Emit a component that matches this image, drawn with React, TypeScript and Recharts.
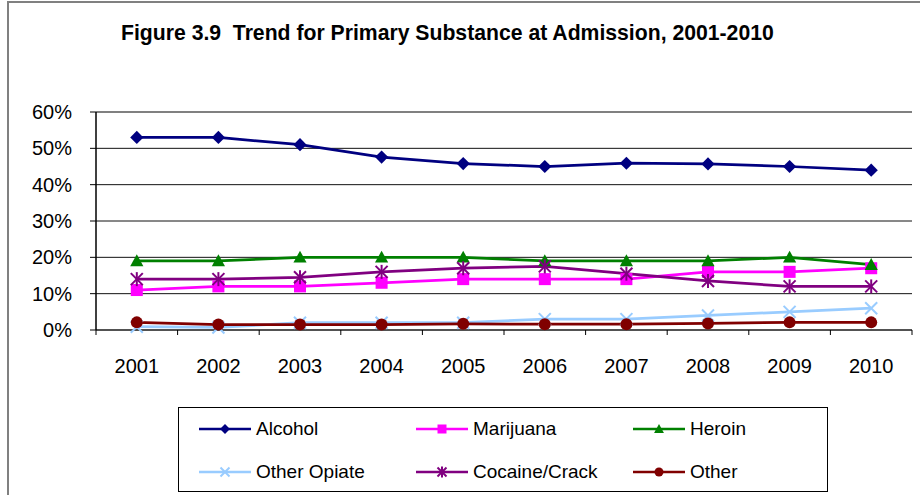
import React from 'react';
import {
    LineChart, Line, XAxis, YAxis, CartesianGrid, Legend, ReferenceLine
} from 'recharts';

// years on the x axis
const years = ['2001', '2002', '2003', '2004', '2005', '2006', '2007', '2008', '2009', '2010'];

// percent of admissions per primary substance
const alcohol = [53, 53, 51, 47.6, 45.8, 45, 45.9, 45.7, 45, 44];
const marijuana = [11, 12, 12, 13, 14, 14, 14, 16, 16, 17];
const heroin = [19, 19, 20, 20, 20, 19, 19, 19, 20, 18];
const otherOpiate = [0.9, 0.7, 2, 2, 2, 3, 3, 4, 5, 6];
const cocaine = [14, 14, 14.5, 16, 17, 17.5, 15.5, 13.5, 12, 12];
const other = [2.1, 1.5, 1.5, 1.5, 1.7, 1.6, 1.6, 1.8, 2.1, 2.1];

const yTicks = [0, 10, 20, 30, 40, 50, 60];

type Shape = 'diamond' | 'square' | 'triangle' | 'x' | 'star' | 'circle';

const SERIES: { key: string; name: string; color: string; shape: Shape }[] = [
    { key: 'alcohol', name: 'Alcohol', color: '#000080', shape: 'diamond' },
    { key: 'marijuana', name: 'Marijuana', color: '#FF00FF', shape: 'square' },
    { key: 'heroin', name: 'Heroin', color: '#008000', shape: 'triangle' },
    { key: 'otherOpiate', name: 'Other Opiate', color: '#99CCFF', shape: 'x' },
    { key: 'cocaine', name: 'Cocaine/Crack', color: '#800080', shape: 'star' },
    { key: 'other', name: 'Other', color: '#800000', shape: 'circle' },
];

const data = years.map((year, i) => ({
    year,
    alcohol: alcohol[i],
    marijuana: marijuana[i],
    heroin: heroin[i],
    otherOpiate: otherOpiate[i],
    cocaine: cocaine[i],
    other: other[i],
}));

const WIDTH = 920;
const HEIGHT = 495;
const MARGIN = { top: 112, right: 8, left: 0, bottom: 115 };
const Y_AXIS_W = 96;
const X_AXIS_H = 50;
const X_TICK_SIZE = 5;
const X_TICK_MARGIN = 24;
const HALF_BAND = (WIDTH - MARGIN.right - Y_AXIS_W) / years.length / 2;
const FONT = '"Liberation Sans", Arial, sans-serif';

// marker drawn at (cx, cy), s = half size
const Marker = ({ shape, color, cx, cy, s }: { shape: Shape; color: string; cx: number; cy: number; s: number }) => {
    switch (shape) {
        case 'diamond': {
            const d = s * 1.1;
            return <polygon points={`${cx},${cy - d} ${cx + d},${cy} ${cx},${cy + d} ${cx - d},${cy}`} fill={color} />;
        }
        case 'square':
            return <rect x={cx - s} y={cy - s} width={s * 2} height={s * 2} fill={color} />;
        case 'triangle': {
            const t = s * 1.1;
            return <polygon points={`${cx},${cy - t} ${cx + t},${cy + t * 0.8} ${cx - t},${cy + t * 0.8}`} fill={color} />;
        }
        case 'x':
            return (
                <g stroke={color} strokeWidth={2}>
                    <line x1={cx - s} y1={cy - s} x2={cx + s} y2={cy + s} />
                    <line x1={cx - s} y1={cy + s} x2={cx + s} y2={cy - s} />
                </g>
            );
        case 'star':
            return (
                <g stroke={color} strokeWidth={2}>
                    <line x1={cx - s} y1={cy - s} x2={cx + s} y2={cy + s} />
                    <line x1={cx - s} y1={cy + s} x2={cx + s} y2={cy - s} />
                    <line x1={cx} y1={cy - s - 1} x2={cx} y2={cy + s + 1} />
                </g>
            );
        default:
            return <circle cx={cx} cy={cy} r={s} fill={color} />;
    }
};

const makeDot = (shape: Shape, color: string) => (props: any) => {
    const { cx, cy, index } = props;
    if (cx == null || cy == null) return <g key={`d-${index}`} />;
    return (
        <g key={`d-${index}`}>
            <Marker shape={shape} color={color} cx={cx} cy={cy} s={6} />
        </g>
    );
};

// year label centred, tick mark on the band boundary (Excel style)
const YearTick = (props: any) => {
    const { x, y, payload, index } = props;
    const axisY = y - X_TICK_SIZE - X_TICK_MARGIN;
    const last = index === years.length - 1;
    return (
        <g>
            <line x1={x - HALF_BAND} y1={axisY} x2={x - HALF_BAND} y2={axisY + X_TICK_SIZE} stroke="#000" />
            {last && <line x1={x + HALF_BAND} y1={axisY} x2={x + HALF_BAND} y2={axisY + X_TICK_SIZE} stroke="#000" />}
            <text x={x} y={y} dy="0.71em" textAnchor="middle" fontSize={20} fill="#000">
                {payload.value}
            </text>
        </g>
    );
};

const LegendBox = () => (
    <div style={{
        position: 'relative', width: 650, height: 85, boxSizing: 'border-box',
        border: '1px solid #000', background: '#fff', fontFamily: FONT,
    }}>
        {SERIES.map((s, i) => {
            const col = i % 3;
            const row = Math.floor(i / 3);
            return (
                <div key={s.key} style={{
                    position: 'absolute', left: 20 + col * 217, top: 9 + row * 43,
                    height: 24, display: 'flex', alignItems: 'center', whiteSpace: 'nowrap',
                }}>
                    <svg width={52} height={24} style={{ display: 'block' }}>
                        <line x1={0} y1={12} x2={52} y2={12} stroke={s.color} strokeWidth={2.5} />
                        <Marker shape={s.shape} color={s.color} cx={26} cy={12} s={4.5} />
                    </svg>
                    <span style={{ fontSize: 19, marginLeft: 5, color: '#000' }}>{s.name}</span>
                </div>
            );
        })}
    </div>
);

export default function App() {
    return (
        <div style={{
            position: 'absolute', left: 0, top: 0, width: WIDTH, height: HEIGHT,
            overflow: 'hidden', background: '#fff', fontFamily: FONT,
        }}>
            {/* chart frame, right and bottom edges fall outside the picture */}
            <div style={{
                position: 'absolute', left: 7, top: 1, width: 1000, height: 600,
                border: '2px solid #808080', boxSizing: 'border-box',
            }} />
            <div style={{
                position: 'absolute', left: 121, top: 21, lineHeight: '24px',
                fontSize: 21.2, fontWeight: 'bold', whiteSpace: 'pre', color: '#000',
            }}>
                Figure 3.9  Trend for Primary Substance at Admission, 2001-2010
            </div>
            <div style={{ position: 'absolute', left: 0, top: 0 }}>
                <LineChart width={WIDTH} height={HEIGHT} data={data} margin={MARGIN}>
                    <CartesianGrid vertical={false} stroke="#111" />
                    <XAxis
                        dataKey="year"
                        height={X_AXIS_H}
                        padding={{ left: HALF_BAND, right: HALF_BAND }}
                        axisLine={{ stroke: '#404040', strokeWidth: 1.5 }}
                        tickLine={false}
                        tickSize={X_TICK_SIZE}
                        tickMargin={X_TICK_MARGIN}
                        tick={<YearTick />}
                        interval={0}
                    />
                    <YAxis
                        width={Y_AXIS_W}
                        domain={[0, 60]}
                        ticks={yTicks}
                        tickFormatter={(v: number) => `${v}%`}
                        axisLine={{ stroke: '#000', strokeWidth: 1.5 }}
                        tickLine={{ stroke: '#000' }}
                        tickSize={6}
                        tickMargin={18}
                        tick={{ fontSize: 20, fill: '#000' }}
                    />
                    <YAxis
                        yAxisId="frame"
                        orientation="right"
                        width={0}
                        tick={false}
                        tickLine={false}
                        axisLine={{ stroke: '#808080', strokeWidth: 2 }}
                    />
                    <ReferenceLine y={60} stroke="#808080" strokeWidth={2} />
                    {SERIES.map(s => (
                        <Line
                            key={s.key}
                            type="linear"
                            dataKey={s.key}
                            name={s.name}
                            stroke={s.color}
                            strokeWidth={2.75}
                            dot={makeDot(s.shape, s.color)}
                            activeDot={false}
                            isAnimationActive={false}
                        />
                    ))}
                    <Legend
                        layout="horizontal"
                        verticalAlign="middle"
                        align="center"
                        content={() => <LegendBox />}
                        wrapperStyle={{ position: 'absolute', left: 178, top: 407, width: 650, height: 85 }}
                    />
                </LineChart>
            </div>
        </div>
    );
}
